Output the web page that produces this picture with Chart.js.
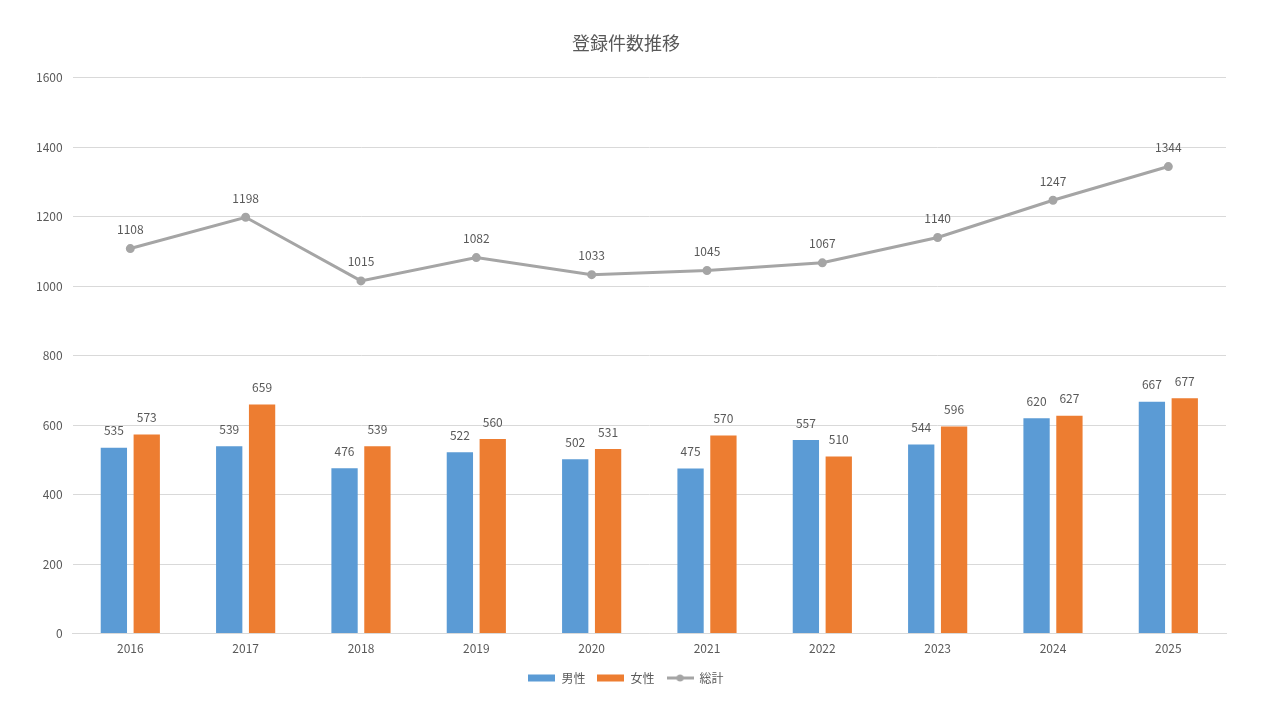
<!DOCTYPE html>
<html>
<head>
<meta charset="utf-8">
<script src="https://cdn.jsdelivr.net/npm/chart.js@4/dist/chart.umd.min.js"></script>
<style>
  html, body { margin: 0; padding: 0; background: #fff; }
  #wrap { width: 1280px; height: 720px; }
</style>
</head>
<body>
<div id="wrap"><canvas id="myChart"></canvas></div>
<script>
// chart data
const years = ['2016', '2017', '2018', '2019', '2020', '2021', '2022', '2023', '2024', '2025'];
const male = [535, 539, 476, 522, 502, 475, 557, 544, 620, 667];
const female = [573, 659, 539, 560, 531, 570, 510, 596, 627, 677];
const total = [1108, 1198, 1015, 1082, 1033, 1045, 1067, 1140, 1247, 1344];

const FONT = '"Noto Sans CJK JP", "Noto Sans", sans-serif';
const TEXT = '#595959';
const BLUE = '#5B9BD5', ORANGE = '#ED7D31', GRAY = '#A5A5A5';

// small images used as legend markers
function marker(color, isLine) {
    const c = document.createElement('canvas');
    c.width = 27; c.height = 10;
    const g = c.getContext('2d');
    if (isLine) {
        g.strokeStyle = color; g.lineWidth = 3;
        g.beginPath(); g.moveTo(0, 5); g.lineTo(27, 5); g.stroke();
        g.fillStyle = color;
        g.beginPath(); g.arc(13.5, 5, 3.5, 0, Math.PI * 2); g.fill();
    } else {
        g.fillStyle = color;
        g.fillRect(0, 1.5, 27, 7);
    }
    return c;
}

// draws the value above every bar and point
const valueLabels = {
    id: 'valueLabels',
    afterDatasetsDraw(chart) {
        const ctx = chart.ctx;
        ctx.save();
        ctx.font = '12px ' + FONT;
        ctx.fillStyle = TEXT;
        ctx.textAlign = 'center';
        ctx.textBaseline = 'middle';
        chart.data.datasets.forEach((ds, i) => {
            const meta = chart.getDatasetMeta(i);
            const gap = ds.type === 'line' ? 19 : 17;
            meta.data.forEach((el, j) => {
                ctx.fillText(ds.data[j], el.x, el.y - gap);
            });
        });
        ctx.restore();
    }
};

const ctx = document.getElementById('myChart').getContext('2d');
new Chart(ctx, {
    data: {
        labels: years,
        datasets: [
            {
                type: 'line',
                label: '総計',
                data: total,
                borderColor: GRAY,
                backgroundColor: GRAY,
                borderWidth: 3,
                pointRadius: 3,
                pointHoverRadius: 3,
                tension: 0,
                order: 0
            },
            {
                type: 'bar',
                label: '男性',
                data: male,
                backgroundColor: BLUE,
                categoryPercentage: 0.57,
                barPercentage: 0.8,
                order: 1
            },
            {
                type: 'bar',
                label: '女性',
                data: female,
                backgroundColor: ORANGE,
                categoryPercentage: 0.57,
                barPercentage: 0.8,
                order: 1
            }
        ]
    },
    options: {
        responsive: true,
        maintainAspectRatio: false,
        animation: false,
        layout: { padding: { left: 26, right: 54, top: 32, bottom: 26 } },
        plugins: {
            title: {
                display: true,
                text: '登録件数推移',
                color: TEXT,
                font: { family: FONT, size: 18, weight: 'normal' },
                padding: { top: 0, bottom: 24 }
            },
            legend: {
                position: 'bottom',
                labels: {
                    color: TEXT,
                    font: { family: FONT, size: 12 },
                    usePointStyle: true,
                    pointStyleWidth: 27,
                    padding: 12,
                    generateLabels: (chart) => [1, 2, 0].map(i => {
                        const ds = chart.data.datasets[i];
                        return {
                            text: ds.label,
                            datasetIndex: i,
                            fontColor: TEXT,
                            pointStyle: marker(ds.backgroundColor, ds.type === 'line'),
                            hidden: false
                        };
                    })
                }
            },
            tooltip: { enabled: false }
        },
        scales: {
            x: {
                grid: { display: false },
                border: { color: '#D9D9D9' },
                ticks: { color: TEXT, font: { family: FONT, size: 12 }, padding: 0 },
                afterFit: axis => { axis.height += 4; }
            },
            y: {
                min: 0,
                max: 1600,
                ticks: {
                    stepSize: 200, color: TEXT, font: { family: FONT, size: 12 }, padding: 10,
                    callback: v => String(v)
                },
                grid: { color: '#D9D9D9', drawTicks: false },
                border: { display: false }
            }
        }
    },
    plugins: [valueLabels]
});
</script>
</body>
</html>
